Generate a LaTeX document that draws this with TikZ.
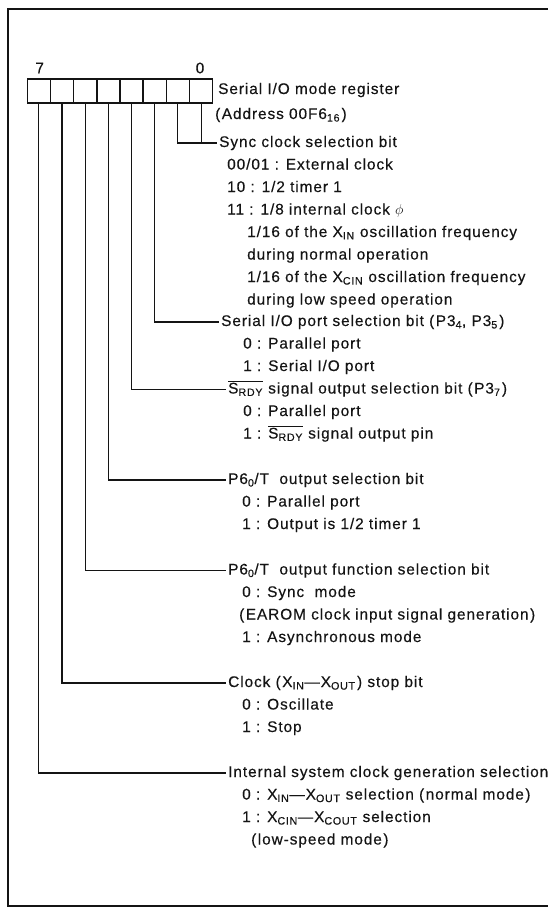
\documentclass[tikz,border=0pt]{standalone}
\usepackage{fontspec}
\setmainfont[LetterSpace=6,FakeBold=0.35]{Liberation Sans}
\usepackage{tikz}
\usetikzlibrary{positioning, arrows.meta}
\definecolor{rInk}{HTML}{141414}
\newcommand{\rfont}{\fontsize{15.4}{17}\selectfont}
\newcommand{\lo}[1]{\textsubscript{#1}}
\newcommand{\srdy}{$\overline{\mbox{S\lo{RDY}}}$}
\newcommand{\po}{(\kern1.5pt}
\newcommand{\pc}{\kern1.5pt)}
\tikzset{
  regcell/.style={draw=rInk, line width=1.4pt, minimum width=23.2pt, minimum height=24pt, inner sep=0pt},
  bitnum/.style={font=\rfont, text=rInk, inner sep=0pt},
  head/.style={anchor=west, font=\rfont, text=rInk, inner xsep=2pt, inner ysep=0pt,
    text height=11pt, text depth=3pt},
  item/.style={head, inner xsep=0pt},
  bitline/.style={draw=rInk, line width=1.1pt},
  frameline/.style={draw=rInk, line width=2pt},
}

\begin{document}
\begin{tikzpicture}[x=1pt, y=-1pt]
  \useasboundingbox (0,0) rectangle (547,910);
  \draw[frameline] (560,9) -- (8,9) -- (8,906) -- (560,906);
  \foreach \i in {0,...,7} {
    \node[regcell] (c\i) at ({201.1-23.18*\i},91) {};
  }
  \node[bitnum] (n7) at (39.7,68) {7};
  \node[bitnum] (n0) at (200,68) {0};
  \node[item] (reg) at (218,90) {Serial I/O mode register};
  \node[item] (adr) at (215,115) {\po Address 00F6\lo{16}\pc};

  \node[head] (sync) at (217,143) {Sync clock selection bit};
  \node[item] (sync1) at (227,165.5) {00/01 : External clock};
  \node[item] (sync2) at (227,188) {10 : 1/2 timer 1};
  \node[item] (sync3) at (227,210.5) {11 : 1/8 internal clock\ $\phi$};
  \node[item] (sync4) at (247,233) {1/16 of the X\lo{IN} oscillation frequency};
  \node[item] (sync5) at (247,255.5) {during normal operation};
  \node[item] (sync6) at (247,278) {1/16 of the X\lo{CIN} oscillation frequency};
  \node[item] (sync7) at (247,300.5) {during low speed operation};

  \node[head] (sio) at (219,322) {Serial I/O port selection bit \po P3\lo{4}, P3\lo{5}\pc};
  \node[item] (sio1) at (243,344.5) {0 : Parallel port};
  \node[item] (sio2) at (243,367) {1 : Serial I/O port};

  \node[head] (rdy) at (226,389.5) {\srdy{} signal output selection bit \po P3\lo{7}\pc};
  \node[item] (rdy1) at (243,412) {0 : Parallel port};
  \node[item] (rdy2) at (243,434.5) {1 : \srdy{} signal output pin};

  \node[head] (tout) at (226,480) {P6\lo{0}/T\ \ output selection bit};
  \node[item] (tout1) at (242,502.5) {0 : Parallel port};
  \node[item] (tout2) at (242,525) {1 : Output is 1/2 timer 1};

  \node[head] (tfun) at (226,570.5) {P6\lo{0}/T\ \ output function selection bit};
  \node[item] (tfun1) at (242,593) {0 : Sync\ \ mode};
  \node[item] (tfun2) at (239,615.5) {\po EAROM clock input signal generation\pc};
  \node[item] (tfun3) at (242,638) {1 : Asynchronous mode};

  \node[head] (stop) at (226,683) {Clock \po X\lo{IN}---X\lo{OUT}\pc{} stop bit};
  \node[item] (stop1) at (242,705.5) {0 : Oscillate};
  \node[item] (stop2) at (242,728) {1 : Stop};

  \node[head] (sys) at (226,773) {Internal system clock generation selection};
  \node[item] (sys1) at (242,795.5) {0 : X\lo{IN}---X\lo{OUT} selection \po normal mode\pc};
  \node[item] (sys2) at (242,818) {1 : X\lo{CIN}---X\lo{COUT} selection};
  \node[item] (sys3) at (251,840.5) {\po low-speed mode\pc};

  \draw[bitline] (c0.south) |- (sync.west);
  \draw[bitline] (c1.south) |- (sync.west);
  \draw[bitline] (c2.south) |- (sio.west);
  \draw[bitline] (c3.south) |- (rdy.west);
  \draw[bitline] (c4.south) |- (tout.west);
  \draw[bitline] (c5.south) |- (tfun.west);
  \draw[bitline] (c6.south) |- (stop.west);
  \draw[bitline] (c7.south) |- (sys.west);
\end{tikzpicture}
\end{document}
